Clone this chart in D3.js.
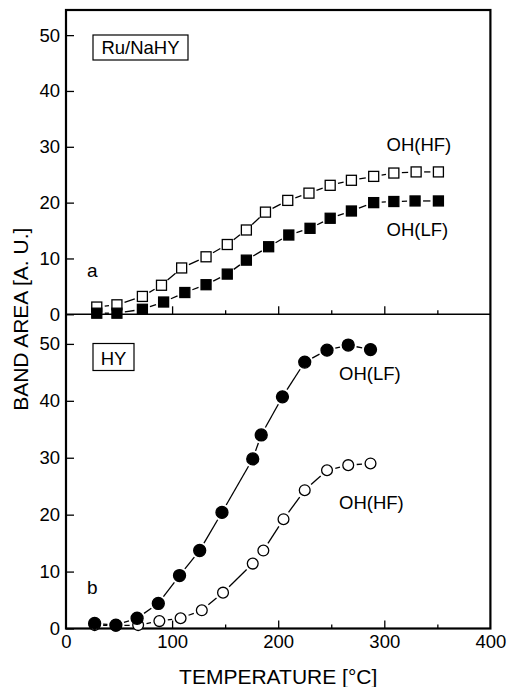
<!DOCTYPE html>
<html>
<head>
<meta charset="utf-8">
<script src="https://cdn.jsdelivr.net/npm/d3@7"></script>
<style>
  html, body { margin: 0; padding: 0; background: #fff; }
  svg { display: block; }
  text { font-family: "Liberation Sans", Arial, Helvetica, sans-serif; fill: #000; }
</style>
</head>
<body>
<div id="chart"></div>
<script>
// ---- Data: panel a (Ru/NaHY), squares ----
const tempA_HF = [29, 48, 72, 90, 109, 132, 152, 170, 188, 209, 229, 249, 269, 290, 309, 330, 351];
const valA_HF  = [1.3, 1.7, 3.2, 5.2, 8.3, 10.3, 12.5, 15.1, 18.3, 20.4, 21.7, 23.1, 24.0, 24.7, 25.3, 25.5, 25.5];
const tempA_LF = [29, 48, 72, 92, 112, 132, 152, 170, 191, 210, 230, 249, 269, 290, 309, 329, 351];
const valA_LF  = [0.2, 0.2, 0.9, 2.2, 3.9, 5.3, 7.2, 9.7, 12.1, 14.2, 15.4, 17.2, 18.5, 20.0, 20.2, 20.3, 20.3];

// ---- Data: panel b (HY), circles ----
const tempB_HF = [27, 47, 68, 88, 108, 128, 148, 176, 186, 205, 225, 246, 266, 287];
const valB_HF  = [0.6, 0.5, 0.6, 1.3, 1.8, 3.2, 6.3, 11.4, 13.7, 19.2, 24.3, 27.8, 28.7, 29.0];
const tempB_LF = [27, 47, 67, 87, 107, 126, 147, 176, 184, 204, 225, 246, 266, 287];
const valB_LF  = [0.9, 0.6, 1.8, 4.4, 9.3, 13.7, 20.4, 29.8, 34.0, 40.7, 46.8, 48.9, 49.8, 49.0];

// ---- Axis ticks ----
const xTickLabels = [0, 100, 200, 300, 400];
const xMajorTicks = [100, 200, 300];
const xMinorTicks = [50, 150, 250, 350];
const yTicks = [0, 10, 20, 30, 40, 50];

const W = 508, H = 687;
const FONT = '"Liberation Sans", Arial, Helvetica, sans-serif';

const svg = d3.select("#chart").append("svg")
  .attr("width", W).attr("height", H);

const x  = d3.scaleLinear().domain([0, 400]).range([66, 490.4]);
const yA = d3.scaleLinear().domain([0, 54.5]).range([314.3, 10]);
const yB = d3.scaleLinear().domain([0, 55.2]).range([628.5, 314.3]);

// ---- Axes (inward ticks) ----
function styleAxis(g) {
  g.select(".domain").remove();
  g.selectAll(".tick line").attr("stroke", "#000").attr("stroke-width", 1.3);
  g.selectAll(".tick text").attr("font-family", FONT).attr("font-size", 18.5).attr("fill", "#000");
}

[ [yA, 314.3], [yB, 628.5] ].forEach(([ys, yb]) => {
  svg.append("g").attr("transform", `translate(0,${yb})`)
    .call(d3.axisBottom(x).tickValues(xMajorTicks).tickSize(-8).tickFormat(""))
    .call(styleAxis);
  svg.append("g").attr("transform", `translate(0,${yb})`)
    .call(d3.axisBottom(x).tickValues(xMinorTicks).tickSize(-4).tickFormat(""))
    .call(styleAxis);
  svg.append("g").attr("transform", `translate(${x(0)},0)`)
    .call(d3.axisLeft(ys).tickValues(yTicks).tickSize(-8).tickPadding(6))
    .call(styleAxis);
});

// x tick labels
const gx = svg.append("g").attr("transform", `translate(0,${yB(0)})`)
  .call(d3.axisBottom(x).tickValues(xTickLabels).tickSize(0).tickPadding(6.5))
  .call(styleAxis);

// ---- Frame ----
svg.append("rect")
  .attr("x", x(0)).attr("y", yA(54.5))
  .attr("width", x(400) - x(0)).attr("height", yB(0) - yA(54.5))
  .attr("fill", "none").attr("stroke", "#000").attr("stroke-width", 2.2);
svg.append("line")
  .attr("x1", x(0)).attr("x2", x(400)).attr("y1", yA(0)).attr("y2", yA(0))
  .attr("stroke", "#000").attr("stroke-width", 1.6);

// ---- Series drawing ----
function drawSegments(temps, vals, ys, gap) {
  const pts = temps.map((t, i) => [x(t), ys(vals[i])]);
  const segs = [];
  for (let i = 0; i < pts.length - 1; i++) {
    const [x1, y1] = pts[i], [x2, y2] = pts[i + 1];
    const dx = x2 - x1, dy = y2 - y1, L = Math.hypot(dx, dy);
    if (L <= 2 * gap + 1) continue;
    const ux = dx / L, uy = dy / L;
    segs.push([x1 + ux * gap, y1 + uy * gap, x2 - ux * gap, y2 - uy * gap]);
  }
  svg.append("g").selectAll("line").data(segs).join("line")
    .attr("x1", d => d[0]).attr("y1", d => d[1])
    .attr("x2", d => d[2]).attr("y2", d => d[3])
    .attr("stroke", "#000").attr("stroke-width", 1.3);
}

function drawSquares(temps, vals, ys, filled) {
  const s = 10;
  svg.append("g").selectAll("rect").data(temps).join("rect")
    .attr("x", (t) => x(t) - s / 2)
    .attr("y", (t, i) => ys(vals[i]) - s / 2)
    .attr("width", s).attr("height", s)
    .attr("fill", filled ? "#000" : "#fff")
    .attr("stroke", "#000").attr("stroke-width", 1.3);
}

function drawCircles(temps, vals, ys, filled) {
  svg.append("g").selectAll("circle").data(temps).join("circle")
    .attr("cx", (t) => x(t))
    .attr("cy", (t, i) => ys(vals[i]))
    .attr("r", filled ? 6 : 5.4)
    .attr("fill", filled ? "#000" : "#fff")
    .attr("stroke", "#000").attr("stroke-width", 1.3);
}

// Panel a
drawSegments(tempA_HF, valA_HF, yA, 8);
drawSegments(tempA_LF, valA_LF, yA, 8);
drawSquares(tempA_HF, valA_HF, yA, false);
drawSquares(tempA_LF, valA_LF, yA, true);

// Panel b
drawSegments(tempB_HF, valB_HF, yB, 8.5);
drawSegments(tempB_LF, valB_LF, yB, 8.5);
drawCircles(tempB_HF, valB_HF, yB, false);
drawCircles(tempB_LF, valB_LF, yB, true);

// ---- Annotations ----
function label(txt, px, py, size, anchor) {
  svg.append("text").attr("x", px).attr("y", py)
    .attr("font-family", FONT).attr("font-size", size)
    .attr("text-anchor", anchor || "start").text(txt);
}

// boxed panel titles
svg.append("rect").attr("x", 93).attr("y", 35).attr("width", 95).attr("height", 25)
  .attr("fill", "#fff").attr("stroke", "#000").attr("stroke-width", 1.2);
label("Ru/NaHY", 140.5, 54.3, 18.5, "middle");
svg.append("rect").attr("x", 93).attr("y", 343.5).attr("width", 41).attr("height", 27)
  .attr("fill", "#fff").attr("stroke", "#000").attr("stroke-width", 1.2);
label("HY", 113.5, 364.5, 18.5, "middle");

label("a", 87, 277, 19);
label("b", 87, 594, 19);

label("OH(HF)", 386.5, 150.7, 18.5);
label("OH(LF)", 386.5, 236, 18.5);
label("OH(LF)", 339, 379.5, 18.5);
label("OH(HF)", 339, 509, 18.5);

// axis titles
label("TEMPERATURE [\u00B0C]", (x(0) + x(400)) / 2, 684, 21, "middle");
svg.append("text")
  .attr("transform", `translate(27.5,${(yA(54.5) + yB(0)) / 2}) rotate(-90)`)
  .attr("font-family", FONT).attr("font-size", 21)
  .attr("text-anchor", "middle").text("BAND AREA [A. U.]");
</script>
</body>
</html>
